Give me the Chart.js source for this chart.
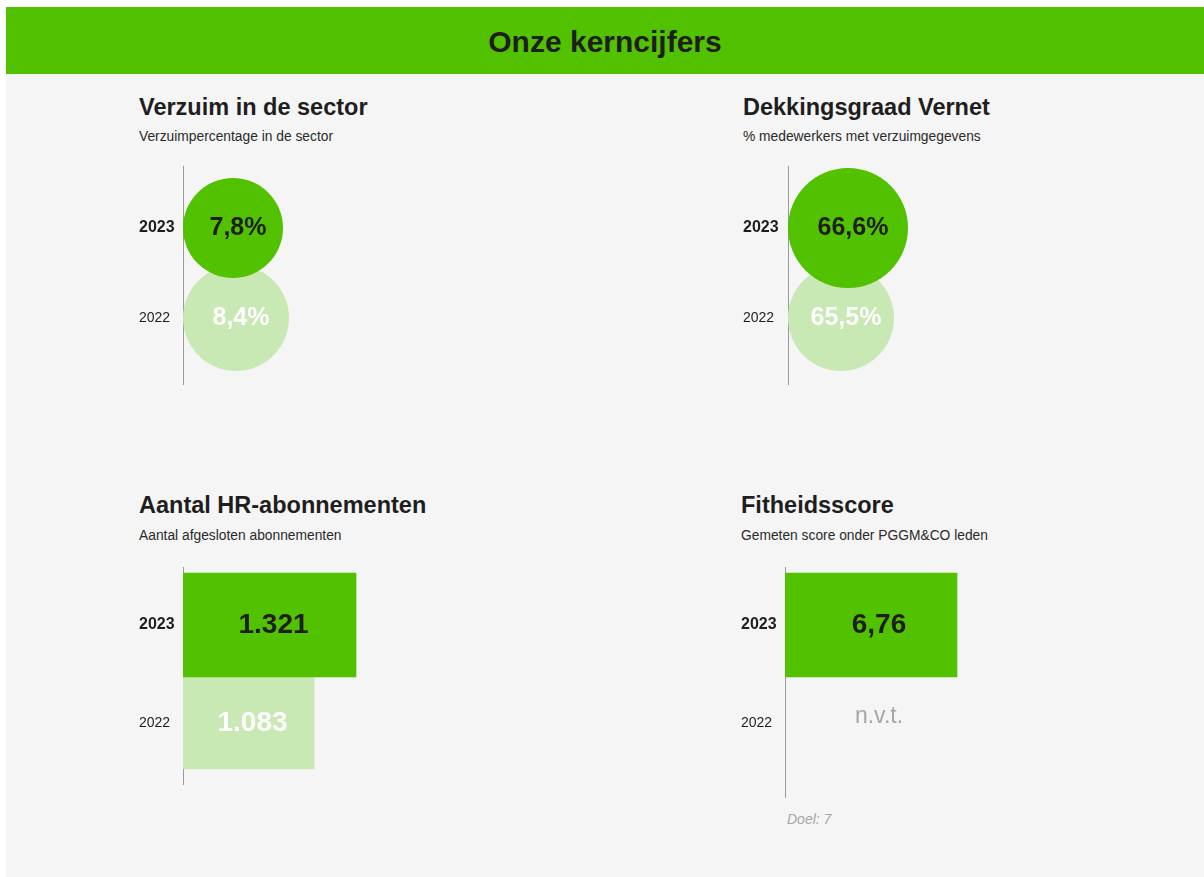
<!DOCTYPE html>
<html lang="nl">
<head>
<meta charset="utf-8">
<title>Onze kerncijfers</title>
<script src="https://cdn.jsdelivr.net/npm/chart.js@4.4.1/dist/chart.umd.min.js"></script>
<style>
  html, body { margin: 0; padding: 0; background: #fff; }
  body { width: 1204px; height: 877px; position: relative; overflow: hidden;
         font-family: "Liberation Sans", Arial, sans-serif; color: #1e1e1e; }
  .page { position: absolute; left: 6px; top: 7px; width: 1198px; height: 870px; background: #f5f5f5; }
  .header { position: absolute; left: 6px; top: 7px; width: 1198px; height: 67px; background: #52c100; }
  .header h1 { position: absolute; left: 0; right: 0; top: 20px; margin: 0; text-align: center;
               font-size: 30px; line-height: 30px; font-weight: bold; }
  h2 { position: absolute; margin: 0; font-size: 23.5px; line-height: 23px; font-weight: bold; white-space: nowrap; }
  .sub { position: absolute; margin: 0; font-size: 13.8px; line-height: 13px; color: #2a2a2a; white-space: nowrap; }
  canvas { position: absolute; }
  .note { position: absolute; font-size: 14px; line-height: 14px; font-style: italic; color: #a6a6a6; }
</style>
</head>
<body>
<div class="page"></div>
<div class="header"><h1>Onze kerncijfers</h1></div>

<h2 style="left:139px;top:96px">Verzuim in de sector</h2>
<p class="sub" style="left:139px;top:130px">Verzuimpercentage in de sector</p>
<canvas id="verzuim" width="390" height="219" style="left:139px;top:166px"></canvas>

<h2 style="left:743px;top:96px">Dekkingsgraad Vernet</h2>
<p class="sub" style="left:743px;top:130px">% medewerkers met verzuimgegevens</p>
<canvas id="dekking" width="390" height="219" style="left:743px;top:166px"></canvas>

<h2 style="left:139px;top:494px">Aantal HR-abonnementen</h2>
<p class="sub" style="left:139px;top:529px">Aantal afgesloten abonnementen</p>
<canvas id="abonnementen" width="390" height="218" style="left:139px;top:567px"></canvas>

<h2 style="left:741px;top:494px">Fitheidsscore</h2>
<p class="sub" style="left:741px;top:529px">Gemeten score onder PGGM&amp;CO leden</p>
<canvas id="fitheid" width="390" height="231" style="left:741px;top:567px"></canvas>
<div class="note" style="left:787px;top:812px">Doel: 7</div>

<script>
// data
const years = ['2023', '2022'];
const verzuim = [7.8, 8.4];          // %
const dekking = [66.6, 65.5];        // %
const abonnementen = [1321, 1083];
const fitheid = [6.76, null];        // 2022: n.v.t.

const dark = '#52c100';
const light = '#c8e8b4';
const textColors = ['#1e1e1e', '#ffffff'];

Chart.defaults.font.family = '"Liberation Sans", Arial, sans-serif';
Chart.defaults.color = '#1e1e1e';

const pct = v => v.toFixed(1).replace('.', ',') + '%';
const thousands = v => String(v).replace(/\B(?=(\d{3})+(?!\d))/g, '.');
const decimal = v => v.toFixed(2).replace('.', ',');

// bubbles start at the axis line instead of being centred on it
const hugAxis = {
  id: 'hugAxis',
  afterDatasetsUpdate(chart) {
    if (chart.config.type !== 'bubble') return;
    chart.getSortedVisibleDatasetMetas().forEach(meta => {
      meta.data.forEach(el => { el.x += el.options.radius; });
    });
  }
};

// value written inside each mark
const valueLabels = {
  id: 'valueLabels',
  afterDatasetsDraw(chart, args, opts) {
    const ctx = chart.ctx;
    const area = chart.chartArea;
    ctx.save();
    ctx.textAlign = 'center';
    ctx.textBaseline = 'middle';
    opts.values.forEach((v, i) => {
      const meta = chart.getDatasetMeta(i);
      if (v == null) {
        const xs = chart.scales.x;
        const ref = Math.max(...opts.values.filter(n => n != null));
        ctx.font = '23px "Liberation Sans", Arial, sans-serif';
        ctx.fillStyle = '#a6a6a6';
        ctx.fillText(opts.naText, (area.left + xs.getPixelForValue(ref)) / 2 + opts.dx, chart.scales.y.getPixelForValue(i) - 6);
        return;
      }
      const el = meta.data[0];
      let x = el.x;
      if (chart.config.type === 'bar') x = (Math.max(el.base, area.left) + el.x) / 2;
      ctx.font = 'bold ' + opts.size + 'px "Liberation Sans", Arial, sans-serif';
      ctx.fillStyle = textColors[i];
      ctx.fillText(opts.format(v), x + opts.dx, el.y);
    });
    ctx.restore();
  }
};

function categoryAxis(min, max, axisWidth) {
  return {
    type: 'linear',
    reverse: true,
    offset: false,
    bounds: 'data',
    min: min,
    max: max,
    afterBuildTicks: scale => { scale.ticks = years.map((y, i) => ({ value: i })); },
    afterFit: scale => {
      scale.width = axisWidth;
      scale.paddingTop = 0;
      scale.paddingBottom = 0;
    },
    grid: { display: false, offset: false },
    border: { display: true, color: '#9a9a9a', width: 1 },
    ticks: {
      crossAlign: 'far',
      color: '#1e1e1e',
      callback: v => years[v],
      font: c => (c.tick && c.tick.value === 0) ? { size: 16, weight: 'bold' } : { size: 14, weight: 'normal' }
    }
  };
}

function bubbleChart(id, values, radiusRange, axisWidth, format) {
  const lo = Math.min(...values), hi = Math.max(...values);
  const radius = v => radiusRange[0] + (v - lo) / (hi - lo) * (radiusRange[1] - radiusRange[0]);
  return new Chart(document.getElementById(id), {
    type: 'bubble',
    data: {
      datasets: years.map((y, i) => ({
        label: y,
        data: [{ x: 0, y: i }],
        radius: radius(values[i]),
        backgroundColor: i === 0 ? dark : light,
        borderWidth: 0,
        clip: false
      }))
    },
    options: {
      responsive: false,
      animation: false,
      events: [],
      layout: { padding: 0, autoPadding: false },
      scales: {
        x: { display: false, min: 0, max: 1 },
        y: categoryAxis(-62 / 90, -62 / 90 + 219 / 90, axisWidth)
      },
      plugins: {
        legend: { display: false },
        tooltip: { enabled: false },
        valueLabels: { values: values, format: format, size: 25, dx: 5 }
      }
    },
    plugins: [hugAxis, valueLabels]
  });
}

function barChart(id, values, xMin, xMax, height, format, dx) {
  const thickness = [104, 92];
  return new Chart(document.getElementById(id), {
    type: 'bar',
    data: {
      datasets: years.map((y, i) => ({
        label: y,
        data: values[i] == null ? [] : [{ x: values[i], y: i }],
        backgroundColor: i === 0 ? dark : light,
        borderWidth: 0,
        barThickness: thickness[i],
        grouped: false
      }))
    },
    options: {
      indexAxis: 'y',
      responsive: false,
      animation: false,
      events: [],
      layout: { padding: 0, autoPadding: false },
      scales: {
        x: { display: false, min: xMin, max: xMax },
        y: categoryAxis(-58 / 98, -58 / 98 + height / 98, 44)
      },
      plugins: {
        legend: { display: false },
        tooltip: { enabled: false },
        valueLabels: { values: values, format: format, size: 28, naText: 'n.v.t.', dx: dx }
      }
    },
    plugins: [valueLabels]
  });
}

bubbleChart('verzuim', verzuim, [50, 53], 44, pct);
bubbleChart('dekking', dekking, [53, 60], 45, pct);
barChart('abonnementen', abonnementen, 340, 2302, 218, thousands, 4);
barChart('fitheid', fitheid, 0, 13.6, 231, decimal, 8);
</script>
</body>
</html>
